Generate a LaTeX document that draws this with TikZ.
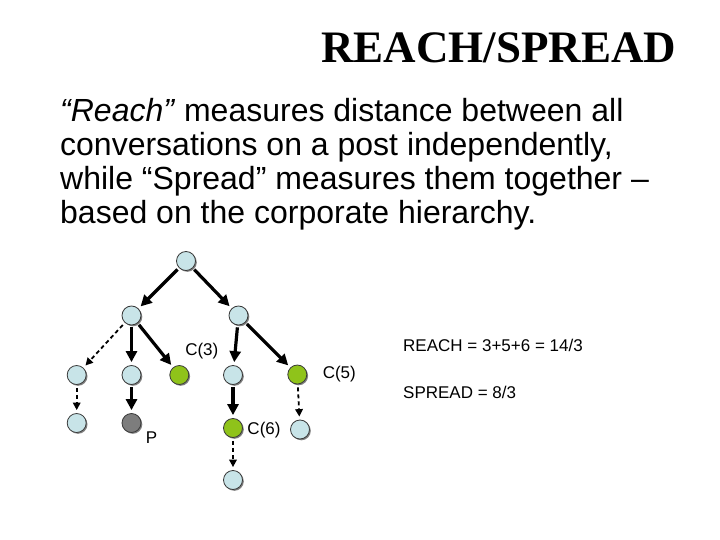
\documentclass[tikz,border=0pt]{standalone}
\usepackage{fontspec}
\setmainfont{Liberation Sans}
\newfontfamily\ttlfont{Liberation Serif}
\usepackage{tikz}
\usetikzlibrary{arrows.meta,positioning,shadows}
\definecolor{cA}{HTML}{3a3a3a}
\definecolor{cB}{HTML}{c8e4e8}
\definecolor{cG}{HTML}{8fc31a}
\definecolor{cP}{HTML}{7d7d7d}
\tikzset{
  post/.style={circle,draw=cA,fill=cB,line width=.8pt,minimum size=19pt,
              inner sep=0pt,drop shadow={shadow xshift=1.3pt,shadow yshift=-1.3pt,
              fill=black!50,opacity=1}},
  hit/.style={post,fill=cG},
  me/.style={post,fill=cP},
  link/.style={-{Triangle[length=11pt,width=11pt]},line width=3.2pt,
              shorten <=2pt,shorten >=3pt},
  dlink/.style={-{Triangle[length=7.5pt,width=7.5pt]},line width=1.8pt,
              dash pattern=on 4pt off 3pt,shorten <=3pt,shorten >=3pt},
  lbl/.style={font=\fontsize{17}{17}\selectfont,inner sep=0pt},
  body/.style={font=\fontsize{32}{34.2}\selectfont,inner sep=0pt,align=left},
  ttl/.style={font=\ttlfont\bfseries\fontsize{45}{45}\selectfont,inner sep=0pt},
}
\begin{document}
\begin{tikzpicture}[x=1pt,y=-1pt,on grid]
  \useasboundingbox[fill=white](0,0) rectangle (720,540);
  \node[ttl,anchor=base west] (title) at (321,63) {REACH/SPREAD};
  \node[body,anchor=north west] (txt) at (60,98)
    {\textit{“Reach”} measures distance between all\\
     conversations on a post independently,\\
     while “Spread” measures them together –\\
     based on the corporate hierarchy.};
  \node[post] (root) at (186,261) {};
  \node[post,below left=54.5pt and 54.5pt of root] (pl) {};
  \node[post,below right=54.5pt and 52.5pt of root] (pr) {};
  \node[post,below left=59.5pt and 54.8pt of pl] (ql) {};
  \node[post,below=59.5pt of pl] (qm) {};
  \node[hit,below right=59.5pt and 47.8pt of pl] (c3) {};
  \node[post,below left=59.5pt and 5.5pt of pr] (qr) {};
  \node[hit,below right=59pt and 58.8pt of pr] (c5) {};
  \node[post,below=48pt of ql] (sl) {};
  \node[me,below=48pt of qm] (me) {};
  \node[hit,below=53pt of qr] (c6) {};
  \node[post,below right=55pt and 2.7pt of c5] (sr) {};
  \node[post,below=52pt of c6] (tl) {};
  \node[lbl,above right=23.5pt and 22.5pt of c3] (c3l) {C(3)};
  \node[lbl,right=42pt of c5] (c5l) {C(5)};
  \node[lbl,below right=2pt and 31pt of c6] (c6l) {C(6)};
  \node[lbl,below right=15pt and 20pt of me] (mel) {P};
  \node[lbl,anchor=base west] (reach) at (403,351.5) {REACH = 3+5+6 = 14/3};
  \node[lbl,anchor=base west] (spread) at (403,398.5) {SPREAD = 8/3};
  \draw[link](root)--(pl);\draw[link](root)--(pr);
  \draw[dlink](pl)--(ql);\draw[link](pl)--(qm);\draw[link](pl)--(c3);
  \draw[link](pr)--(qr);\draw[link](pr)--(c5);
  \draw[dlink](ql)--(sl);\draw[link](qm)--(me);
  \draw[link](qr)--(c6);\draw[dlink](c5)--(sr);
  \draw[dlink](c6)--(tl);
\end{tikzpicture}
\end{document}
